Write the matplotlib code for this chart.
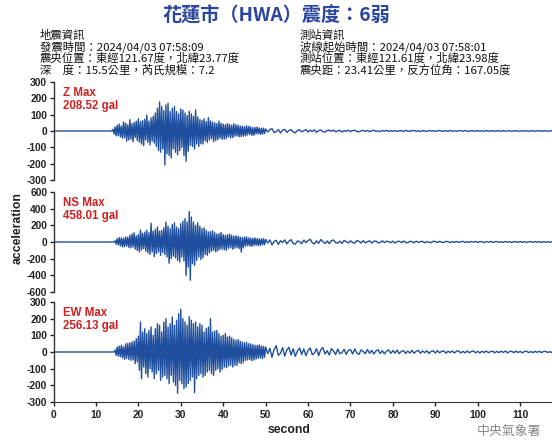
import numpy as np
import matplotlib
matplotlib.use("Agg")
import matplotlib.pyplot as plt

plt.rcParams["axes.unicode_minus"] = False

# ---- station / event header ----
TITLE = "花蓮市（HWA）震度：6弱"
EVENT_INFO = ["地震資訊",
              "發震時間：2024/04/03 07:58:09",
              "震央位置：東經121.67度，北緯23.77度",
              "深　度：15.5公里，芮氏規模：7.2"]
STATION_INFO = ["測站資訊",
                "波線起始時間：2024/04/03 07:58:01",
                "測站位置：東經121.61度，北緯23.98度",
                "震央距：23.41公里，反方位角：167.05度"]

STRONG_DT = 0.25   # s, strong-motion part
CODA_START = 50.0
CODA_DT = 0.5      # s, coda part
T_END = 117.5

Z_ONSET = 14.0
z_strong = [10, -18, 25, -30, 35, -28, 42, -36, 30, -45, 55, -40, 48, -62, 38, -55,
            70, -50, 45, -66, 52, -40, 60, -58, 75, -68, 58, -80, 64, -90, 72, -55,
            98, -70, 60, -85, 80, -62, 90, -74, 110, -95, 140, -120, 178, -130, 150, -110,
            125, -208.52, 160, -140, 170, -150, 120, -165, 140, -110, 150, -130,
            118, -145, 105, -120, 135, -100, 128, -150, 110, -186, 95, -125,
            120, -88, 105, -95, 90, -110, 130, -80, 85, -95, 70, -78, 65, -80, 75, -60,
            58, -70, 82, -55, 62, -48, 55, -66, 50, -58, 45, -52, 60, -44, 48, -50,
            42, -50, 38, -46, 45, -36, 40, -42, 35, -40, 44, -32, 38, -30, 35, -36,
            30, -34, 28, -32, 26, -30, 32, -24, 28, -22, 25, -27, 20, -26, 22, -18,
            24, -17, 19, -21, 16, -20, 18, -15]
z_coda = [12, -6, 9, 14, -10, -4, 8, -12, 5, 10,
          -8, 3, 9, -6, -11, 4, 7, -5, 2, 8,
          -6, 5, -3, 7, -8, 2, 6, -4, -7, 3,
          5, -2, 6, -5, 1, 4, -6, 3, -2, 5,
          -4, 2, 5, -3, -5, 1, 4, -2, 3, -4,
          2, 5, -3, 1, -4, 3, -1, 4, -3, 2,
          -2, 3, -3, 1, 2, -3, 4, -1, -2, 2,
          3, -2, 1, -3, 2, 0, -2, 3, -1, 2,
          -2, 1, 3, -2, 0, 2, -3, 4, -1, 1,
          -2, 2, 1, -2, 3, -1, -2, 2, 0, -1,
          2, -1, 1, -2, 2, 0, -1, 2, -2, 1,
          1, -2, 2, -1, 0, 2, -2, 1, 1, -1,
          -1, 2, -1, 1, -2, 1, 0, -1, 2, -1,
          1, -1, 2, -1, 0, 1, -1]

NS_ONSET = 14.5
ns_strong = [15, -25,
             40, -35, 55, -45, 50, -60, 45, -55, 62, -48, 58, -66, 80, -70, 95, -60,
             110, -85, 75, -100, 90, -120, 145, -95, 105, -80, 120, -110,
             140, -130, 110, -150, 225, -120, 130, -175, 150, -140, 180, -120,
             130, -160, 140, -125, 170, -150, 240, -180, 190, -255, 160, -200,
             210, -170, 230, -190, 180, -220, 160, -240, 220, -180, 250, -230,
             280, -400, 240, -300, 365, -458.01, 300, -260, 240, -280, 200, -220,
             230, -180, 190, -210, 160, -190, 170, -150, 140, -160, 120, -130,
             125, -110, 135, -100, 110, -120, 95, -105, 100, -90, 115, -85,
             90, -95, 80, -100, 85, -75, 95, -70, 80, -85, 70, -75, 75, -65, 68, -80,
             60, -120, 55, -70, 58, -50, 62, -45, 50, -48, 45, -52, 44, -40, 48, -38,
             42, -45, 36, -40, 38, -34, 40, -32]
ns_coda = [30, -12, 25, -35, 8, 20, -28, 15, -6, 26,
           -22, 10, 28, -18, -25, 12, 6, -20, 22, -8,
           18, 32, -10, -22, 14, -16, 30, 5, -18, 12,
           -20, 16, 24, -8, -14, 10, -18, 20, 4, -12,
           15, -6, -14, 18, 8, -12, 16, -10, 2, 14,
           -12, 8, 12, -10, -6, 14, -8, 10, 4, -9,
           10, -12, 6, 9, -8, 12, -4, -10, 8, 5,
           -9, 10, -6, 4, 8, -10, 6, -3, -8, 9,
           5, -7, 9, -4, -6, 8, 2, -8, 6, -5,
           7, -6, 3, 8, -7, 4, -5, 6, -2, 7,
           -6, 5, 3, -7, 6, -4, 7, -5, 2, 6,
           -5, 4, -6, 7, -3, 5, -6, 4, 3, -5,
           6, -4, 5, -6, 3, 4, -5, 6, -3, 4,
           -5, 5, -4, 3, -4, 5, -3]

EW_ONSET = 14.5
ew_strong = [12, -20,
             30, -25, 35, -28, 40, -35, 32, -45, 48, -38, 52, -44, 55, -50, 60, -48,
             65, -70, 80, -60, 95, -110, 180, -160, 120, -90, 140, -130,
             110, -150, 130, -100, 150, -120, 100, -160, 140, -130, 170, -110,
             160, -170, 120, -150, 180, -140, 200, -160, 150, -190, 170, -140,
             210, -180, 160, -200, 190, -248, 230, -170, 256.13, -190, 200, -220,
             180, -210, 160, -190, 212, -170, 190, -150, 170, -244, 180, -160,
             150, -140, 170, -130, 160, -150, 120, -140, 140, -120, 150, -110,
             200, -130, 120, -140, 125, -110, 130, -100, 110, -120, 95, -105,
             100, -90, 110, -95, 90, -85, 95, -80, 85, -90, 75, -80, 70, -80, 75, -65,
             65, -70, 60, -62, 55, -50, 58, -48, 50, -45, 48, -52, 44, -48, 40, -42,
             40, -38, 42, -36, 36, -40, 34, -32]
ew_coda = [30, -10, 22, -32, 15, 38, -20, -8, 26, -25,
           12, 28, -18, 20, -26, 6, 24, -15, 18, -22,
           10, 24, -16, -6, 20, -22, 14, 26, -12, 8,
           -18, 20, 6, -15, 18, -10, -4, 16, -14, 10,
           14, -12, 18, -6, -14, 12, 4, -10, 15, -8,
           10, -12, 6, 14, -9, 8, -11, 5, 12, -8,
           9, -7, 11, -10, 4, 8, -9, 6, -6, 10,
           -8, 5, 9, -7, 6, -4, 8, -8, 3, 7,
           -6, 8, -5, 4, 7, -7, 5, -3, 6, -6,
           5, 7, -6, 4, -5, 6, -4, 3, 6, -5,
           4, -6, 5, -3, 6, -4, 2, 5, -5, 4,
           -4, 5, -3, 6, -5, 3, 4, -4, 5, -3,
           4, -5, 3, 5, -4, 3, -4, 4, -2, 5,
           -4, 3, 4, -3, 2, -3, 3]

components = ["Z", "NS", "EW"]
max_gal = [208.52, 458.01, 256.13]
y_limits = [300, 600, 300]
y_steps = [100, 200, 100]
x_ticks = list(range(0, 111, 10))

TRACE_COLOR = "#1f4f9e"
RED = "#d02020"
SANS = ["Liberation Sans", "Noto Sans CJK TC"]
CJK = ["Noto Sans CJK TC", "DejaVu Sans"]


def build_trace(onset, strong, coda):
    """Flat line before onset, then strong-motion samples, then the coda."""
    t_strong = onset + STRONG_DT * np.arange(len(strong))
    t_coda = CODA_START + CODA_DT * np.arange(len(coda))
    t = np.concatenate([[0.0, onset - STRONG_DT], t_strong, t_coda])
    a = np.concatenate([[0.0, 0.0], strong, coda])
    return t, a


traces = [build_trace(Z_ONSET, z_strong, z_coda),
          build_trace(NS_ONSET, ns_strong, ns_coda),
          build_trace(EW_ONSET, ew_strong, ew_coda)]

W, H = 552, 441
fig = plt.figure(figsize=(W / 100, H / 100), dpi=100)
fig.patch.set_facecolor("white")

left = 53.5 / W
panels_px = [(82, 180), (192, 292), (302, 402)]

axes = []
for i, (top, bottom) in enumerate(panels_px):
    ax = fig.add_axes([left, 1 - bottom / H, 1 - left, (bottom - top) / H])
    t, a = traces[i]
    ax.plot(t, a, color=TRACE_COLOR, lw=1.0)
    lim = y_limits[i]
    ax.set_ylim(-lim, lim)
    ax.set_xlim(0, T_END)
    ax.set_yticks(np.arange(-lim, lim + 1, y_steps[i]))
    for s in ["top", "right"]:
        ax.spines[s].set_visible(False)
    ax.spines["left"].set_color("#333333")
    ax.spines["left"].set_linewidth(1.0)
    ax.tick_params(axis="y", length=3, width=1.0, pad=1.5, labelsize=7.4, colors="#222222")
    for lbl in ax.get_yticklabels():
        lbl.set_fontweight("bold")
        lbl.set_family(SANS)
    if i < 2:
        ax.spines["bottom"].set_visible(False)
        ax.set_xticks([])
    else:
        ax.spines["bottom"].set_color("#333333")
        ax.set_xticks(x_ticks)
        ax.tick_params(axis="x", length=3, width=1.0, pad=3, labelsize=7.4, colors="#222222")
        for lbl in ax.get_xticklabels():
            lbl.set_fontweight("bold")
            lbl.set_family(SANS)
    ax.text(0.019, 0.95, f"{components[i]} Max\n{max_gal[i]:.2f} gal",
            transform=ax.transAxes, ha="left", va="top", color=RED,
            fontsize=8.3, fontweight="bold", family=SANS, linespacing=1.1)
    ax.patch.set_alpha(0)
    axes.append(ax)

fig.text(18 / W, 1 - 228 / H, "acceleration", rotation=90, ha="center", va="center",
         fontsize=8.8, fontweight="bold", family=SANS, color="#222222")
fig.text(289 / W, 1 - 430 / H, "second", ha="center", va="center",
         fontsize=8.8, fontweight="bold", family=SANS, color="#222222")

# header
fig.text(277 / W, 1 - 16 / H, TITLE, ha="center", va="center", fontsize=13.8,
         fontweight="bold", color="#2a46a0", family=CJK)
for k, line in enumerate(EVENT_INFO):
    fig.text(40 / W, 1 - (35 + 11.7 * k) / H, line, ha="left", va="center",
             fontsize=8.2, color="#111111", family=CJK)
for k, line in enumerate(STATION_INFO):
    fig.text(300 / W, 1 - (35 + 11.7 * k) / H, line, ha="left", va="center",
             fontsize=8.2, color="#111111", family=CJK)

fig.text(477 / W, 1 - 431 / H, "中央氣象署", ha="left", va="center",
         fontsize=9.3, color="#888888", family=CJK)

fig.savefig("out.png", dpi=100)
